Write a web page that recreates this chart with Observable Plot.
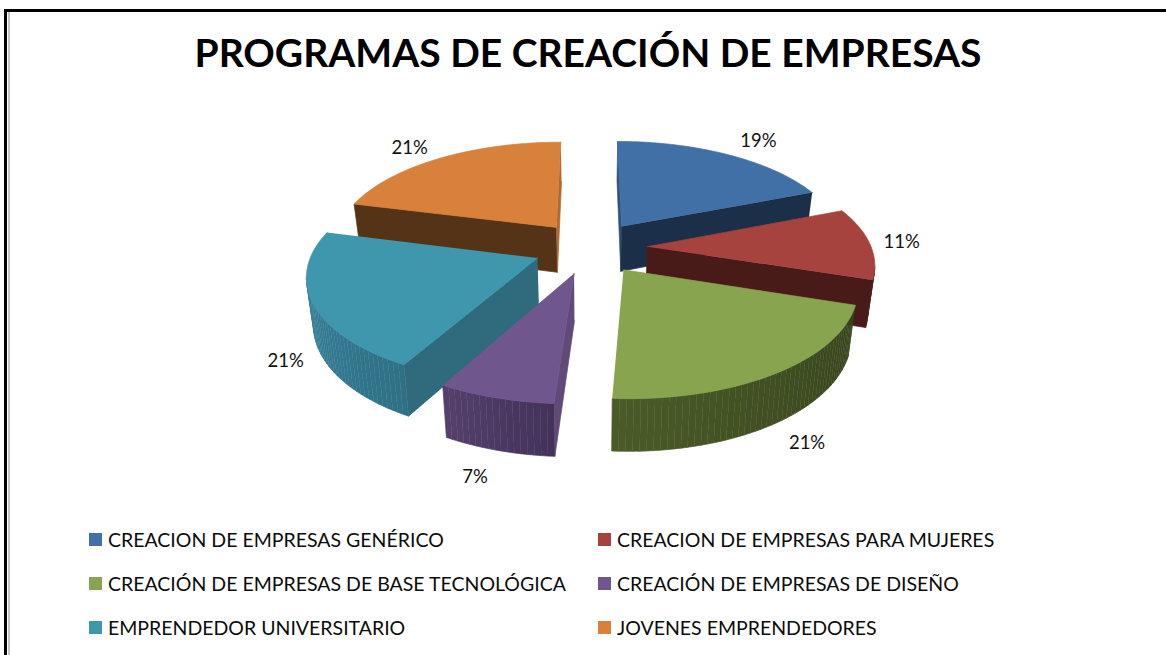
<!DOCTYPE html>
<html lang="es">
<head>
<meta charset="utf-8">
<script src="https://cdn.jsdelivr.net/npm/d3@7"></script>
<script src="https://cdn.jsdelivr.net/npm/@observablehq/plot@0.6"></script>
<style>
  html, body { margin: 0; padding: 0; background: #fff; }
  body { width: 1166px; height: 655px; position: relative; overflow: hidden; font-family: Lato, "Open Sans", sans-serif; color: #0c0c0c; }
  .frame { position: absolute; }
  h1 { margin: 0; height: 100px; box-sizing: border-box; padding: 29px 0 0 0; width: 1176px; text-align: center; font-size: 39px; line-height: 46px; font-weight: 700; color: #000; white-space: nowrap; }
  #chart { height: 410px; }
  #chart svg { display: block; background: transparent; }
  #legend { position: absolute; left: 0; top: 517px; width: 1166px; }
  .item { position: absolute; display: flex; align-items: center; height: 24px; font-size: 19.5px; white-space: nowrap; }
  .item i { width: 13px; height: 13px; margin-right: 6px; display: block; }
</style>
</head>
<body>
<div class="frame" style="left:4px;top:9px;width:1162px;height:3px;background:#000"></div>
<div class="frame" style="left:4px;top:9px;width:3px;height:646px;background:#000"></div>
<div class="frame" style="left:8px;top:12px;width:2px;height:643px;background:#c4c4c4"></div>
<h1>PROGRAMAS DE CREACIÓN DE EMPRESAS</h1>
<div id="chart"></div>
<div id="legend"></div>
<script>
// ---- data ----
const categories = [
  "CREACION DE EMPRESAS GENÉRICO",
  "CREACION DE EMPRESAS PARA MUJERES",
  "CREACIÓN DE EMPRESAS DE BASE TECNOLÓGICA",
  "CREACIÓN DE EMPRESAS DE DISEÑO",
  "EMPRENDEDOR UNIVERSITARIO",
  "JOVENES EMPRENDEDORES"
];
const values = [19, 11, 21, 7, 21, 21];
const topColors = ["#4070a6", "#a7433f", "#88a44e", "#6f568c", "#3f97ae", "#d7813b"];
const startCutColors = ["#2f5079", "#481b18", "#38431c", "#5f4a78", "#2f6b7d", "#553317"];
const endCutColors = ["#1b2f48", "#481b18", "#38431c", "#4b3a63", "#2f6b7d", "#b06a30"];
const arcColorsA = ["#1b2f48", "#4f1e1b", "#36431c", "#43325a", "#2f7085", "#553317"];
const arcColorsB = ["#1b2f48", "#4f1e1b", "#4b5b28", "#55416c", "#3c8ca5", "#553317"];
// label placement: angle (degrees clockwise from the back) and radius, in pie radii
const labelAngles = [36, 88, 153, 193, 231, 320];
const labelRadii = [1.5, 1.4, 1.67, 1.73, 1.51, 1.46];
// paint order, back to front
const paintOrder = [0, 5, 1, 4, 2, 3];

// ---- 3D pie projection ----
const cx = 590, cy = 247, Rx = 224, Ry = 103, persp = 0.145, explode = 0.254;
const rad = d => d * Math.PI / 180;
const total = d3.sum(values);
const bounds = [0];
values.forEach(v => bounds.push(bounds[bounds.length - 1] + v / total * 360));

function project(X, Y) {
  const s = 1 / (1 + persp * Y);
  return [cx + Rx * X * s, cy - Ry * Y * s];
}
function lower(X, Y) {
  const [x, y] = project(X, Y);
  return [cx + (x - cx) * 0.975, y + 46 - 5.5 * Y];
}

const rows = [];
let key = 0;
function addPoly(points, color) {
  const k = key++;
  points.forEach(p => rows.push({k, c: color, px: p[0], py: p[1]}));
}

paintOrder.forEach(i => {
  const a0 = bounds[i], a1 = bounds[i + 1], mid = (a0 + a1) / 2;
  const ox = explode * Math.sin(rad(mid)), oy = explode * Math.cos(rad(mid));
  const n = Math.max(6, Math.round((a1 - a0) / 1.5));
  const ring = d3.range(n + 1).map(j => {
    const a = a0 + (a1 - a0) * j / n;
    return {a, X: ox + Math.sin(rad(a)), Y: oy + Math.cos(rad(a))};
  });
  const apex = {X: ox, Y: oy};
  const wall = (p, q, color) => {
    const P = project(p.X, p.Y), Q = project(q.X, q.Y);
    if (Q[0] < P[0]) addPoly([P, Q, lower(q.X, q.Y), lower(p.X, p.Y)], color);
  };
  wall(apex, ring[0], startCutColors[i]);
  wall(ring[n], apex, endCutColors[i]);
  const mix = d3.interpolateRgb(arcColorsA[i], arcColorsB[i]);
  for (let j = 0; j < n; j++) wall(ring[j], ring[j + 1], mix(j / n));
  addPoly([project(apex.X, apex.Y), ...ring.map(r => project(r.X, r.Y))], topColors[i]);
});

const labels = values.map((v, i) => {
  const [lx, ly] = project(labelRadii[i] * Math.sin(rad(labelAngles[i])), labelRadii[i] * Math.cos(rad(labelAngles[i])));
  return {t: v + "%", lx, ly};
});

const plot = Plot.plot({
  width: 1166,
  height: 410,
  marginTop: 0, marginRight: 0, marginBottom: 0, marginLeft: 0,
  x: {domain: [0, 1166], range: [0, 1166], axis: null},
  y: {domain: [100, 510], range: [0, 410], axis: null},
  color: {type: "identity"},
  style: {background: "transparent", overflow: "visible"},
  marks: [
    Plot.line(rows, {x: "px", y: "py", z: "k", fill: "c", stroke: "c", strokeWidth: 0.7}),
    Plot.text(labels, {x: "lx", y: "ly", text: "t", fontSize: 18.5, fontFamily: "Lato, sans-serif", fill: "#111"})
  ]
});
document.getElementById("chart").append(plot);

// ---- legend ----
const legend = document.getElementById("legend");
categories.forEach((c, i) => {
  const el = document.createElement("div");
  el.className = "item";
  el.style.left = (i % 2 ? 598 : 89) + "px";
  el.style.top = (10 + Math.floor(i / 2) * 44) + "px";
  const sw = document.createElement("i");
  sw.style.background = topColors[i];
  const tx = document.createElement("span");
  tx.textContent = c;
  el.append(sw, tx);
  legend.append(el);
});
</script>
</body>
</html>
